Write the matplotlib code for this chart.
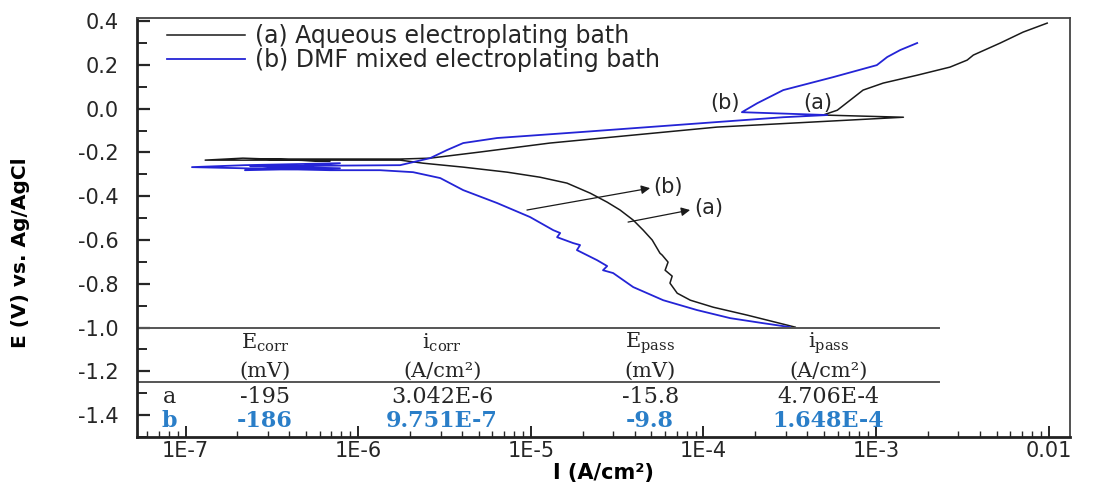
import matplotlib
matplotlib.use("Agg")
import matplotlib.pyplot as plt
from matplotlib.ticker import FixedLocator, FixedFormatter, MultipleLocator, LogLocator, NullFormatter

# Tafel scans: current density (A/cm2) and potential (V vs Ag/AgCl)
# (a) aqueous bath: cathodic branch -> Ecorr noise -> anodic branch -> passive loop
i_a = [3.40e-4, 1.79e-4, 1.14e-4, 8.4e-5, 7.05e-5, 6.4e-5, 6.59e-5, 6.0e-5, 6.24e-5, 5.77e-5,
       5.6e-5, 5.05e-5, 4.48e-5, 3.92e-5, 3.29e-5, 2.77e-5, 2.21e-5, 1.62e-5, 1.13e-5, 7.3e-6,
       4.06e-6, 2.38e-6,
       1.75e-6, 1.30e-7, 2.15e-7, 6.87e-7, 2.70e-7, 1.75e-6, 2.61e-6,
       5.08e-6, 1.29e-5, 1.20e-4, 1.44e-3, 4.93e-4, 5.96e-4, 7.08e-4, 8.41e-4, 1.10e-3,
       1.73e-3, 2.68e-3, 3.37e-3, 3.66e-3, 5.24e-3, 7.11e-3, 9.8e-3]
e_a = [-0.998, -0.943, -0.907, -0.875, -0.843, -0.797, -0.765, -0.738, -0.701, -0.669,
       -0.660, -0.600, -0.555, -0.509, -0.463, -0.427, -0.386, -0.340, -0.313, -0.290,
       -0.267, -0.249,
       -0.235, -0.235, -0.226, -0.240, -0.230, -0.230, -0.226,
       -0.198, -0.157, -0.084, -0.039, -0.029, -0.007, 0.039, 0.085, 0.117,
       0.153, 0.190, 0.222, 0.245, 0.300, 0.350, 0.391]

# (b) DMF mixed bath
i_b = [3.18e-4, 2.22e-4, 1.43e-4, 9.18e-5, 5.85e-5, 3.92e-5, 3.00e-5, 2.62e-5, 2.77e-5, 2.42e-5,
       1.85e-5, 1.93e-5, 1.76e-5, 1.42e-5, 1.48e-5, 1.35e-5, 9.9e-6, 6.38e-6, 4.06e-6, 2.99e-6,
       2.08e-6, 1.34e-6,
       6.87e-7, 1.09e-7, 2.21e-7, 7.85e-7, 2.21e-7, 7.85e-7, 2.37e-7, 1.75e-6,
       2.61e-6, 3.27e-6, 4.06e-6, 6.38e-6, 1.93e-5, 1.20e-4, 2.90e-4, 5.21e-4,
       1.67e-4, 2.05e-4, 2.90e-4, 5.63e-4, 1.01e-3, 1.16e-3, 1.38e-3, 1.73e-3]
e_b = [-0.998, -0.980, -0.957, -0.920, -0.875, -0.815, -0.751, -0.738, -0.719, -0.692,
       -0.646, -0.623, -0.614, -0.587, -0.568, -0.555, -0.495, -0.431, -0.372, -0.317,
       -0.290, -0.281,
       -0.281, -0.267, -0.258, -0.249, -0.281, -0.272, -0.263, -0.258,
       -0.226, -0.189, -0.157, -0.134, -0.107, -0.061, -0.039, -0.029,
       -0.016, 0.025, 0.085, 0.144, 0.199, 0.236, 0.268, 0.300]

legend_labels = ["(a) Aqueous electroplating bath", "(b) DMF mixed electroplating bath"]

x_ticks = [1e-7, 1e-6, 1e-5, 1e-4, 1e-3, 1e-2]
x_ticklabels = ["1E-7", "1E-6", "1E-5", "1E-4", "1E-3", "0.01"]

# corrosion parameters table
table_head1 = [r"E$_\mathregular{corr}$", r"i$_\mathregular{corr}$",
               r"E$_\mathregular{pass}$", r"i$_\mathregular{pass}$"]
table_head2 = ["(mV)", "(A/cm²)", "(mV)", "(A/cm²)"]
table_rows = ["a", "b"]
row_a = ["-195", "3.042E-6", "-15.8", "4.706E-4"]
row_b = ["-186", "9.751E-7", "-9.8", "1.648E-4"]

c_black = "#1a1a1a"
c_blue = "#2424d6"
c_tbl_blue = "#2a7ec8"
c_text = "#262626"

fig = plt.figure(figsize=(10.99, 4.86), dpi=100)
ax = fig.add_axes([0.1247, 0.1008, 0.849, 0.862])

ax.plot(i_a, e_a, color=c_black, lw=1.1, label=legend_labels[0])
ax.plot(i_b, e_b, color=c_blue, lw=1.3, label=legend_labels[1])

ax.set_xscale("log")
ax.set_xlim(5.24e-8, 1.33e-2)
ax.set_ylim(-1.5, 0.414)

ax.xaxis.set_major_locator(FixedLocator(x_ticks))
ax.xaxis.set_major_formatter(FixedFormatter(x_ticklabels))
ax.xaxis.set_minor_locator(LogLocator(base=10, subs=range(2, 10), numticks=20))
ax.xaxis.set_minor_formatter(NullFormatter())
ax.yaxis.set_major_locator(MultipleLocator(0.2))
ax.yaxis.set_minor_locator(MultipleLocator(0.1))
ax.yaxis.set_major_formatter(matplotlib.ticker.FormatStrFormatter("%.1f"))

ax.tick_params(which="both", direction="in", top=False, right=False, colors=c_text)
ax.tick_params(axis="y", which="major", length=9, width=1.6, labelsize=15, pad=13)
ax.tick_params(axis="y", which="minor", length=7, width=1.4)
ax.tick_params(axis="x", which="major", length=8, width=1.4, labelsize=15, pad=3)
ax.tick_params(axis="x", which="minor", length=4, width=1.0)

for side in ["left", "bottom"]:
    ax.spines[side].set_linewidth(2.0)
    ax.spines[side].set_color("#222222")
for side in ["top", "right"]:
    ax.spines[side].set_linewidth(1.3)
    ax.spines[side].set_color("#444444")

ax.set_xlabel("I (A/cm²)", fontsize=15, fontweight="bold", labelpad=1)
ax.set_ylabel("E (V) vs. Ag/AgCl", fontsize=14.5, fontweight="bold")
ax.yaxis.set_label_coords(-0.115, 0.44)

ax.legend(loc="upper left", bbox_to_anchor=(0.032, 0.985), frameon=False, fontsize=17,
          borderpad=0, borderaxespad=0, labelspacing=0.0, handlelength=3.3,
          handletextpad=0.45, labelcolor=c_text)

# labels on the passive loops
ax.text(1.34e-4, 0.025, "(b)", fontsize=15, color=c_text, ha="center", va="center")
ax.text(4.62e-4, 0.025, "(a)", fontsize=15, color=c_text, ha="center", va="center")

# arrows pointing out the cathodic branches
arrow_kw = dict(arrowstyle="-|>", color=c_black, lw=0.9, mutation_scale=13, shrinkA=0, shrinkB=0)
ax.annotate("", xy=(4.91e-5, -0.363), xytext=(9.5e-6, -0.463), arrowprops=arrow_kw)
ax.annotate("", xy=(8.37e-5, -0.463), xytext=(3.66e-5, -0.518), arrowprops=arrow_kw)
ax.text(5.1e-5, -0.358, "(b)", fontsize=15, color=c_text, ha="left", va="center")
ax.text(8.8e-5, -0.455, "(a)", fontsize=15, color=c_text, ha="left", va="center")

# table inside the lower part of the axes
ax.axhline(-1.0, xmin=0, xmax=0.86, color="#555555", lw=1.4)
ax.axhline(-1.25, xmin=0, xmax=0.86, color="#555555", lw=1.4)

col_x = [0.137, 0.327, 0.550, 0.741]
row_label_x = 0.035
serif = dict(family="DejaVu Serif", ha="center", va="center", transform=ax.transAxes)
for x, h1, h2 in zip(col_x, table_head1, table_head2):
    ax.text(x, 0.224, h1, color=c_text, fontsize=15, **serif)
    ax.text(x, 0.158, h2, color=c_text, fontsize=15, **serif)
ax.text(row_label_x, 0.095, table_rows[0], color=c_text, fontsize=16, **serif)
ax.text(row_label_x, 0.038, table_rows[1], color=c_tbl_blue, fontsize=16,
        fontweight="bold", **serif)
for x, va, vb in zip(col_x, row_a, row_b):
    ax.text(x, 0.095, va, color=c_text, fontsize=16, **serif)
    ax.text(x, 0.038, vb, color=c_tbl_blue, fontsize=16, fontweight="bold", **serif)

fig.savefig("out.png", dpi=100)
